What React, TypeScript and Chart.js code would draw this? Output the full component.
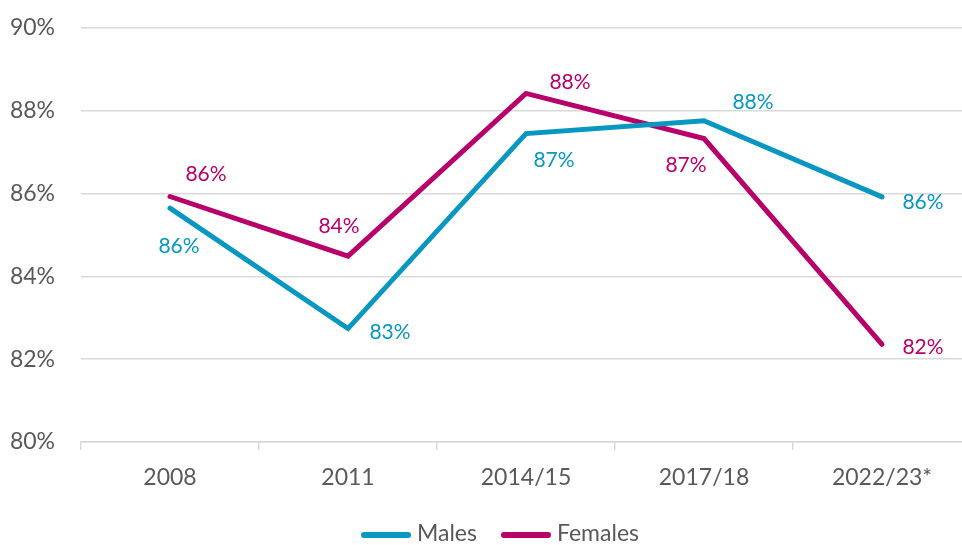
import React, { useEffect, useRef } from "react";
import { Chart, registerables } from "chart.js";

Chart.register(...registerables);

const categories = ["2008", "2011", "2014/15", "2017/18", "2022/23*"];
const males = [85.65, 82.74, 87.45, 87.76, 85.92];
const females = [85.93, 84.49, 88.42, 87.33, 82.36];
const seriesNames = ["Males", "Females"];
const yMin = 80;
const yMax = 90;
const yStep = 2;

// label offsets (pixels) relative to each point
const maleLabelOffsets = [
  [9, 38],
  [42, 4],
  [28, 27],
  [49, -19],
  [41, 5],
];
const femaleLabelOffsets = [
  [36, -22],
  [-9, -30],
  [44, -11],
  [-18, 27],
  [41, 3],
];

const BLUE = "#0797C1";
const MAGENTA = "#B7006A";
const TEXT = "#595959";
const GRID = "#d9d9d9";
const FONT = "Lato, 'Open Sans', sans-serif";

const labelPlugin = {
  id: "valueLabels",
  afterDatasetsDraw(chart: any) {
    const ctx = chart.ctx;
    chart.data.datasets.forEach((ds: any, di: number) => {
      const meta = chart.getDatasetMeta(di);
      const offs = di === 0 ? maleLabelOffsets : femaleLabelOffsets;
      ctx.save();
      ctx.font = `21px ${FONT}`;
      ctx.fillStyle = ds.borderColor;
      ctx.textAlign = "center";
      ctx.textBaseline = "middle";
      meta.data.forEach((pt: any, i: number) => {
        const v = ds.data[i];
        ctx.fillText(`${Math.round(v)}%`, pt.x + offs[i][0], pt.y + offs[i][1]);
      });
      ctx.restore();
    });
  },
};

// legend drawn on the chart canvas below the axis
const legendPlugin = {
  id: "bottomLegend",
  afterDraw(chart: any) {
    const ctx = chart.ctx;
    const boxW = 50;
    const boxH = 6;
    const gapText = 6;
    const gapItem = 24;
    const centerX = 500;
    const cy = 535;
    ctx.save();
    ctx.font = `23px ${FONT}`;
    const items = chart.data.datasets.map((ds: any) => ({
      text: ds.label,
      color: ds.borderColor,
      w: ctx.measureText(ds.label).width,
    }));
    const total =
      items.reduce((a: number, it: any) => a + boxW + gapText + it.w, 0) +
      gapItem * (items.length - 1);
    let x = centerX - total / 2;
    items.forEach((it: any) => {
      ctx.fillStyle = it.color;
      ctx.beginPath();
      ctx.roundRect(x, cy - boxH / 2, boxW, boxH, boxH / 2);
      ctx.fill();
      x += boxW + gapText;
      ctx.fillStyle = TEXT;
      ctx.textAlign = "left";
      ctx.textBaseline = "middle";
      ctx.fillText(it.text, x, cy - 1);
      x += it.w + gapItem;
    });
    ctx.restore();
  },
};

export default function App() {
  const ref = useRef<HTMLCanvasElement | null>(null);
  useEffect(() => {
    if (!ref.current) return;
    const chart = new Chart(ref.current, {
      type: "line",
      data: {
        labels: categories,
        datasets: [
          {
            label: seriesNames[0],
            data: males,
            borderColor: BLUE,
            backgroundColor: BLUE,
            borderWidth: 5,
            pointRadius: 0,
            tension: 0,
            borderCapStyle: "round",
            borderJoinStyle: "miter",
          },
          {
            label: seriesNames[1],
            data: females,
            borderColor: MAGENTA,
            backgroundColor: MAGENTA,
            borderWidth: 5,
            pointRadius: 0,
            tension: 0,
            borderCapStyle: "round",
            borderJoinStyle: "miter",
          },
        ],
      },
      options: {
        animation: false,
        responsive: true,
        maintainAspectRatio: false,
        layout: { padding: { top: 28, right: 9, left: 0, bottom: 53 } },
        plugins: {
          tooltip: { enabled: false },
          legend: { display: false },
        },
        scales: {
          x: {
            offset: true,
            grid: {
              display: true,
              drawOnChartArea: false,
              drawTicks: true,
              tickLength: 8,
              offset: true,
              color: GRID,
              lineWidth: 1.5,
            },
            border: { display: true, color: GRID, width: 1.5 },
            ticks: {
              color: TEXT,
              font: { family: FONT, size: 23 },
              padding: 14,
              maxRotation: 0,
              autoSkip: false,
            },
            afterFit: (s: any) => {
              s.height = 50;
              s.paddingLeft = 0;
              s.paddingRight = 0;
            },
          },
          y: {
            min: yMin,
            max: yMax,
            grid: { color: GRID, lineWidth: 1.5, drawTicks: false },
            border: { display: false },
            ticks: {
              stepSize: yStep,
              color: TEXT,
              font: { family: FONT, size: 23 },
              padding: 26,
              callback: (v: any) => `${v}%`,
            },
            afterFit: (s: any) => {
              s.width = 81;
              s.paddingTop = 0;
              s.paddingBottom = 0;
            },
          },
        },
      },
      plugins: [labelPlugin, legendPlugin],
    });
    return () => chart.destroy();
  }, []);

  return (
    <div
      style={{
        position: "fixed",
        left: 0,
        top: 0,
        width: 962,
        height: 545,
        overflow: "hidden",
        background: "#fff",
      }}
    >
      <div style={{ position: "relative", width: 980, height: 545 }}>
        <canvas ref={ref} />
      </div>
    </div>
  );
}
